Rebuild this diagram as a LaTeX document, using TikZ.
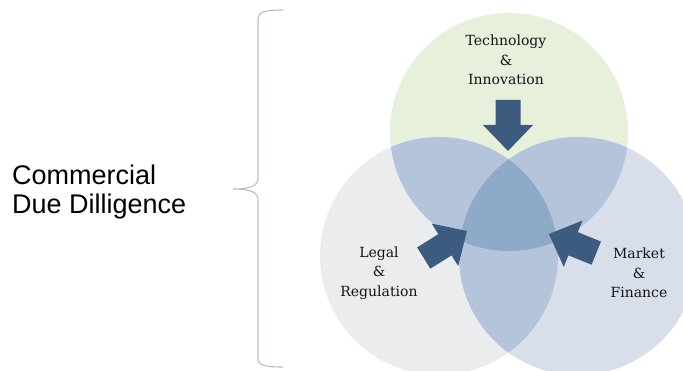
\documentclass[tikz,border=0pt]{standalone}
\usepackage{fontspec}
\setmainfont{DejaVu Serif}
\setsansfont{Liberation Sans}
\usetikzlibrary{positioning}

\definecolor{techgreen}{HTML}{E6F0DB}
\definecolor{legalgrey}{HTML}{EAECEE}
\definecolor{marketblue}{HTML}{D8DFEA}
\definecolor{pairblue}{HTML}{B4C5DB}
\definecolor{coreblue}{HTML}{8FA9C8}
\definecolor{arrowblue}{HTML}{3D5A7F}
\definecolor{bracegrey}{HTML}{B9BFC9}

% block arrow, tip at #1, turned by #2 degrees
\newcommand{\venarrow}[2]{%
  \fill[arrowblue,shift={#1},rotate=#2] (0,0) -- (-26,25) -- (-26,12.5) -- (-51,12.5)
    -- (-51,-12.5) -- (-26,-12.5) -- (-26,-25) -- cycle;}

\begin{document}
\begin{tikzpicture}[x=1pt,y=-1pt,
			lbl/.style={align=center,inner sep=0pt,text=black!92,
				font=\fontsize{14}{19.5}\selectfont},
			set/.style={radius=119pt}]
			\useasboundingbox (0,0) rectangle (683,371);
			\fill[white] (0,0) rectangle (683,371);
			
			\coordinate (T) at (509,132);
			\coordinate (L) at (439,256);
			\coordinate (M) at (578,256);
			
			% the three sets
			\fill[techgreen]  (T) circle[set];
			\fill[legalgrey]  (L) circle[set];
			\fill[marketblue] (M) circle[set];
			
			% overlaps
			\begin{scope}
				\clip (T) circle[set];
				\fill[pairblue] (L) circle[set];
				\fill[pairblue] (M) circle[set];
			\end{scope}
			\begin{scope}
				\clip (L) circle[set];
				\fill[pairblue] (M) circle[set];
			\end{scope}
			\begin{scope}
				\clip (T) circle[set];
				\clip (L) circle[set];
				\fill[coreblue] (M) circle[set];
			\end{scope}
			
			\venarrow{(508,151)}{-90}
			\venarrow{(467,231)}{32}
			\venarrow{(549,234)}{158}
			
			\node[lbl] (tech)   at (506,60)  {Technology\\\&\\Innovation};
			\node[lbl] (legal)  at (379,273) {Legal\\\&\\Regulation};
			\node[lbl] (market) at (639,273) {Market\\\&\\Finance};
			
			% brace
			\draw[bracegrey,line width=1.1pt] (283,10) .. controls (266,10) and (258,11) .. (258,20)
			-- (258,178) .. controls (258,186) and (250,189) .. (233,189)
			.. controls (250,189) and (258,192) .. (258,200)
			-- (258,358) .. controls (258,366) and (266,367) .. (283,367);
			
			\node[anchor=west,align=left,inner sep=0pt,
			font=\sffamily\fontsize{27}{28.5}\selectfont] (cdd) at (12,192)
			{Commercial\\Due Dilligence};
\end{tikzpicture}
\end{document}
